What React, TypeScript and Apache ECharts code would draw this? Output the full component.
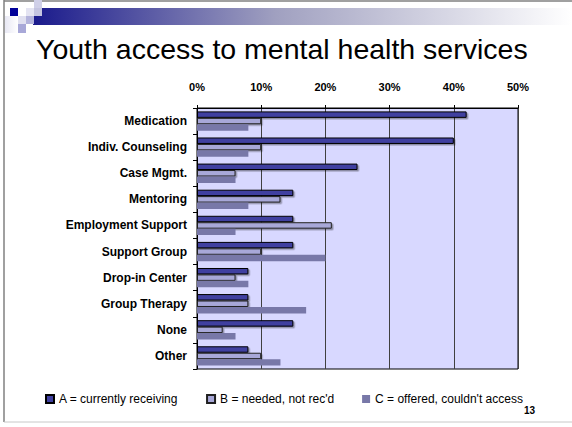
import React, { useEffect, useRef } from "react";
import * as echarts from "echarts";

const categories = [
  "Medication",
  "Indiv. Counseling",
  "Case Mgmt.",
  "Mentoring",
  "Employment Support",
  "Support Group",
  "Drop-in Center",
  "Group Therapy",
  "None",
  "Other",
];
const seriesNames = [
  "A = currently receiving",
  "B = needed, not rec'd",
  "C = offered, couldn't access",
];
const valuesA = [42, 40, 25, 15, 15, 15, 8, 8, 15, 8];
const valuesB = [10, 10, 6, 13, 21, 10, 6, 8, 4, 10];
const valuesC = [8, 8, 6, 8, 6, 20, 8, 17, 6, 13];
const xTicks = { min: 0, max: 50, interval: 10 };

const sans = "'Liberation Sans', Arial, sans-serif";

export default function App() {
  const ref = useRef<HTMLDivElement>(null);
  useEffect(() => {
    if (!ref.current) return;
    const chart = echarts.init(ref.current, undefined, { renderer: "svg" });
    const shadow = {
      shadowColor: "rgba(0,0,0,0.35)",
      shadowOffsetX: 1.5,
      shadowOffsetY: 1.5,
      shadowBlur: 0,
    };
    chart.setOption({
      animation: false,
      backgroundColor: "#ffffff",
      grid: {
        left: 197,
        right: 54,
        top: 108,
        bottom: 58,
        show: true,
        backgroundColor: "#D8D8FF",
        borderColor: "#000000",
        borderWidth: 1,
      },
      legend: {
        left: 40,
        top: 388,
        itemWidth: 8,
        itemHeight: 8,
        itemGap: 28,
        icon: "rect",
        textStyle: { fontFamily: sans, fontSize: 12, color: "#000" },
        data: seriesNames,
      },
      xAxis: {
        type: "value",
        position: "top",
        min: xTicks.min,
        max: xTicks.max,
        interval: xTicks.interval,
        axisLine: { show: true, lineStyle: { color: "#000" } },
        axisTick: { show: true, length: 3, lineStyle: { color: "#000" } },
        axisLabel: {
          formatter: "{value}%",
          fontFamily: sans,
          fontWeight: "bold",
          fontSize: 11,
          color: "#000",
          margin: 16,
        },
        splitLine: { show: true, lineStyle: { color: "#404040", width: 1 } },
      },
      yAxis: {
        type: "category",
        data: categories,
        inverse: true,
        axisLine: { show: true, lineStyle: { color: "#000" } },
        axisTick: { show: true, length: 4, lineStyle: { color: "#000" } },
        axisLabel: {
          fontFamily: sans,
          fontWeight: "bold",
          fontSize: 12,
          color: "#000",
          margin: 10,
        },
      },
      series: [
        {
          name: seriesNames[0],
          type: "bar",
          data: valuesA,
          barGap: "0%",
          barCategoryGap: "26%",
          itemStyle: { color: "#4040A0", borderColor: "#000", borderWidth: 1, ...shadow },
        },
        {
          name: seriesNames[1],
          type: "bar",
          data: valuesB,
          barGap: "0%",
          barCategoryGap: "26%",
          itemStyle: { color: "#A8A8D8", borderColor: "#202020", borderWidth: 1, ...shadow },
        },
        {
          name: seriesNames[2],
          type: "bar",
          data: valuesC,
          barGap: "0%",
          barCategoryGap: "26%",
          itemStyle: { color: "#7878A8" },
        },
      ],
      graphic: [
        // slide frame
        { type: "line", shape: { x1: 4, y1: 0, x2: 4, y2: 422 }, style: { stroke: "#808080", lineWidth: 1.5 } },
        { type: "line", shape: { x1: 4, y1: 1, x2: 572, y2: 1 }, style: { stroke: "#808080", lineWidth: 1.5 } },
        { type: "line", shape: { x1: 4, y1: 422, x2: 572, y2: 422 }, style: { stroke: "#C8C8C8", lineWidth: 1 } },
        // gradient header bar
        {
          type: "rect",
          shape: { x: 33, y: 8, width: 539, height: 17 },
          style: {
            fill: new echarts.graphic.LinearGradient(0, 0, 1, 0, [
              { offset: 0, color: "#1A1A8C" },
              { offset: 0.45, color: "#A0A0C0" },
              { offset: 1, color: "#FFFFFF" },
            ]),
          },
        },
        // decorative squares
        {
          type: "rect",
          shape: { x: 5, y: 16, width: 13, height: 17 },
          style: {
            fill: new echarts.graphic.LinearGradient(0, 0, 1, 0, [
              { offset: 0, color: "#E8E8F4" },
              { offset: 1, color: "#FFFFFF" },
            ]),
          },
        },
        { type: "rect", shape: { x: 10, y: 8, width: 8, height: 8 }, style: { fill: "#000099" } },
        { type: "rect", shape: { x: 26, y: 8, width: 8, height: 8 }, style: { fill: "#E4E4F2" } },
        { type: "rect", shape: { x: 34, y: 0, width: 8, height: 8 }, style: { fill: "#D0D0E8" } },
        { type: "rect", shape: { x: 34, y: 8, width: 8, height: 8 }, style: { fill: "#C4C4E0" } },
        { type: "rect", shape: { x: 18, y: 16, width: 8, height: 8 }, style: { fill: "#E0E0F0" } },
        { type: "rect", shape: { x: 26, y: 16, width: 8, height: 8 }, style: { fill: "#B4B4DC" } },
        { type: "rect", shape: { x: 18, y: 24, width: 8, height: 9 }, style: { fill: "#A8A8D8" } },
        // title
        {
          type: "text",
          left: 36,
          top: 34,
          style: {
            text: "Youth access to mental health services",
            font: "28.5px 'Liberation Sans', Arial, sans-serif",
            fill: "#000",
          },
        },
        // page number
        {
          type: "text",
          left: 524,
          top: 405,
          style: {
            text: "13",
            font: "bold 10px 'Liberation Sans', Arial, sans-serif",
            fill: "#000",
          },
        },
      ],
    });
    return () => chart.dispose();
  }, []);
  return (
    <div
      ref={ref}
      style={{ position: "fixed", left: 0, top: 0, width: 572, height: 427 }}
    />
  );
}
